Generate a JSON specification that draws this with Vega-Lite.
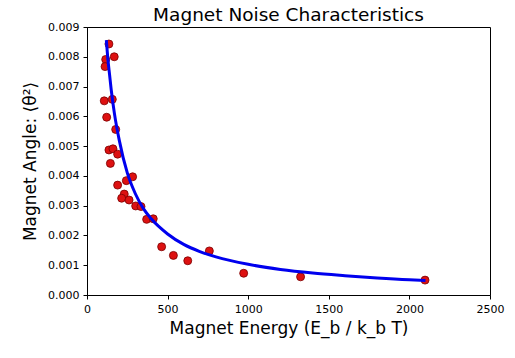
{
  "$schema": "https://vega.github.io/schema/vega-lite/v6.json",
  "width": 403,
  "height": 268,
  "autosize": {"type": "none"},
  "padding": {"left": 87, "top": 27, "right": 25, "bottom": 63},
  "background": "white",
  "config": {
    "font": "DejaVu Sans",
    "view": {"stroke": "black", "strokeWidth": 1},
    "axis": {"grid": false, "domainColor": "black", "tickColor": "black", "labelColor": "black", "titleColor": "black", "labelFont": "DejaVu Sans", "titleFont": "DejaVu Sans", "labelFontSize": 11, "titleFontSize": 17, "titleFontWeight": "normal"}
  },
  "title": {"text": "Magnet Noise Characteristics", "fontSize": 18.5, "fontWeight": "normal", "font": "DejaVu Sans", "color": "black", "offset": -3},
  "datasets": {
    "pts": [
      {"energy": 136, "angle": 0.00843},
      {"energy": 169, "angle": 0.0080},
      {"energy": 116, "angle": 0.00791},
      {"energy": 112, "angle": 0.00767},
      {"energy": 107, "angle": 0.00652},
      {"energy": 157, "angle": 0.00657},
      {"energy": 122, "angle": 0.00597},
      {"energy": 178, "angle": 0.00556},
      {"energy": 136, "angle": 0.00487},
      {"energy": 161, "angle": 0.00491},
      {"energy": 190, "angle": 0.00473},
      {"energy": 145, "angle": 0.00442},
      {"energy": 283, "angle": 0.00397},
      {"energy": 244, "angle": 0.00384},
      {"energy": 190, "angle": 0.00369},
      {"energy": 231, "angle": 0.00339},
      {"energy": 215, "angle": 0.00325},
      {"energy": 261, "angle": 0.00319},
      {"energy": 302, "angle": 0.00299},
      {"energy": 335, "angle": 0.00297},
      {"energy": 370, "angle": 0.00254},
      {"energy": 411, "angle": 0.00256},
      {"energy": 463, "angle": 0.00162},
      {"energy": 536, "angle": 0.00133},
      {"energy": 625, "angle": 0.00115},
      {"energy": 759, "angle": 0.00148},
      {"energy": 972, "angle": 0.00073},
      {"energy": 1325, "angle": 0.00061},
      {"energy": 2097, "angle": 0.0005}
    ],
    "fit": [
      {"energy": 120, "angle": 0.00856},
      {"energy": 130, "angle": 0.0079},
      {"energy": 140, "angle": 0.0074},
      {"energy": 150, "angle": 0.0069},
      {"energy": 170, "angle": 0.0061},
      {"energy": 200, "angle": 0.0052},
      {"energy": 250, "angle": 0.0041},
      {"energy": 300, "angle": 0.0034},
      {"energy": 350, "angle": 0.0029},
      {"energy": 400, "angle": 0.00255},
      {"energy": 500, "angle": 0.00205},
      {"energy": 600, "angle": 0.0017},
      {"energy": 700, "angle": 0.00146},
      {"energy": 800, "angle": 0.00128},
      {"energy": 1000, "angle": 0.00103},
      {"energy": 1200, "angle": 0.00086},
      {"energy": 1400, "angle": 0.00074},
      {"energy": 1600, "angle": 0.00065},
      {"energy": 1800, "angle": 0.00057},
      {"energy": 2000, "angle": 0.00051},
      {"energy": 2100, "angle": 0.00049}
    ]
  },
  "encoding": {
    "x": {"field": "energy", "type": "quantitative", "scale": {"domain": [0, 2500], "nice": false}, "axis": {"values": [0, 500, 1000, 1500, 2000, 2500], "format": "d", "title": "Magnet Energy  (E_b / k_b T)", "titlePadding": 6, "labelOverlap": false, "labelFlush": false, "tickSize": 4, "labelPadding": 4}},
    "y": {"field": "angle", "type": "quantitative", "scale": {"domain": [0, 0.009], "nice": false}, "axis": {"values": [0, 0.001, 0.002, 0.003, 0.004, 0.005, 0.006, 0.007, 0.008, 0.009], "format": ".3f", "tickCount": 10, "title": "Magnet Angle: ⟨θ²⟩", "titlePadding": 8, "labelOverlap": false, "labelFlush": false, "tickSize": 4, "labelPadding": 4}}
  },
  "layer": [
    {
      "data": {"name": "pts"},
      "mark": {"type": "point", "filled": true, "color": "#dd1111", "stroke": "#7a0000", "strokeWidth": 0.8, "opacity": 1, "size": 64}
    },
    {
      "data": {"name": "fit"},
      "mark": {"type": "line", "color": "#0000ee", "strokeWidth": 3, "interpolate": "monotone"}
    }
  ]
}
